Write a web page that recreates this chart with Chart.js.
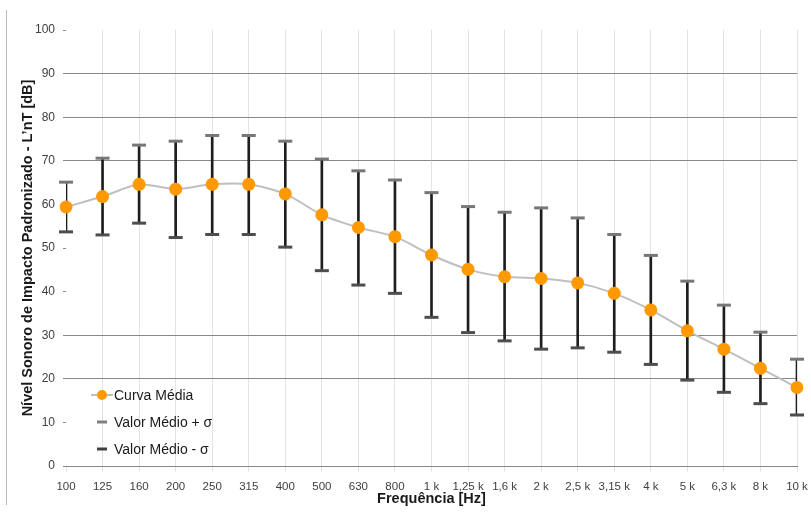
<!DOCTYPE html>
<html>
<head>
<meta charset="utf-8">
<script src="https://cdn.jsdelivr.net/npm/chart.js@4/dist/chart.umd.min.js"></script>
<style>
    html, body { margin: 0; padding: 0; background: #fff; }
    #wrap { position: relative; width: 811px; height: 512px; }
    #frame { position: absolute; left: 6px; top: 10px; height: 495px; border-left: 1px solid #b8b8b8; }
</style>
</head>
<body>
<div id="wrap">
    <div id="frame"></div>
    <canvas id="nivelChart" width="811" height="512"></canvas>
</div>
<script>
// Bandas de frequência (terço de oitava)
const frequencias = ['100', '125', '160', '200', '250', '315', '400', '500', '630', '800',
    '1 k', '1,25 k', '1,6 k', '2 k', '2,5 k', '3,15 k', '4 k', '5 k', '6,3 k', '8 k', '10 k'];

// Curva média L'nT [dB]
const curvaMedia = [59.4, 61.8, 64.6, 63.5, 64.6, 64.6, 62.4, 57.6, 54.7, 52.6,
    48.4, 45.1, 43.4, 43.0, 42.0, 39.6, 35.8, 31.0, 26.8, 22.4, 18.0];

// Valor médio + desvio padrão
const medioMais = [65.1, 70.6, 73.6, 74.5, 75.8, 75.8, 74.5, 70.4, 67.7, 65.6,
    62.7, 59.5, 58.2, 59.2, 56.9, 53.1, 48.3, 42.4, 36.9, 30.7, 24.5];

// Valor médio - desvio padrão
const medioMenos = [53.7, 53.0, 55.7, 52.4, 53.1, 53.1, 50.2, 44.8, 41.5, 39.6,
    34.1, 30.6, 28.7, 26.8, 27.1, 26.1, 23.3, 19.7, 16.9, 14.3, 11.7];

// Linhas de grade horizontais visíveis no original
const linhasGrade = [20, 30, 70, 80, 90];

Chart.defaults.font.family = "'Liberation Sans', Arial, sans-serif";
Chart.defaults.color = '#404040';

// Barras de erro verticais (min..max)
const faixas = medioMenos.map((v, i) => [v, medioMais[i]]);

// Legenda desenhada dentro da área do gráfico
const legendaInterna = {
    id: 'legendaInterna',
    afterDraw(chart) {
        const ctx = chart.ctx;
        const ds = chart.data.datasets;
        ctx.save();
        ctx.font = "14px 'Liberation Sans', Arial, sans-serif";
        ctx.fillStyle = '#1a1a1a';
        ctx.textBaseline = 'middle';
        ctx.textAlign = 'left';

        // Curva Média
        ctx.strokeStyle = '#bfbfbf';
        ctx.lineWidth = 2;
        ctx.beginPath(); ctx.moveTo(91, 395); ctx.lineTo(113, 395); ctx.stroke();
        ctx.fillStyle = '#ff9900';
        ctx.beginPath(); ctx.arc(102, 395, 5, 0, Math.PI * 2); ctx.fill();
        ctx.fillStyle = '#1a1a1a';
        ctx.fillText(ds[0].label, 114, 396);

        // + sigma
        ctx.strokeStyle = '#808080';
        ctx.lineWidth = 3;
        ctx.beginPath(); ctx.moveTo(97, 422); ctx.lineTo(107, 422); ctx.stroke();
        ctx.fillText(ds[1].label, 114, 423);

        // - sigma
        ctx.strokeStyle = '#404040';
        ctx.beginPath(); ctx.moveTo(97, 449); ctx.lineTo(107, 449); ctx.stroke();
        ctx.fillText(ds[2].label, 114, 450);
        ctx.restore();
    }
};

const ctx = document.getElementById('nivelChart').getContext('2d');
const nivelChart = new Chart(ctx, {
    type: 'line',
    data: {
        labels: frequencias,
        datasets: [{
            label: 'Curva Média',
            data: curvaMedia,
            borderColor: '#bfbfbf',
            borderWidth: 2,
            tension: 0.25,
            pointRadius: 6.5,
            pointBackgroundColor: '#ff9900',
            pointBorderWidth: 0,
            order: 0
        }, {
            label: 'Valor Médio + σ',
            data: medioMais,
            showLine: false,
            pointStyle: 'line',
            pointRadius: 7,
            pointBorderWidth: 3,
            pointBorderColor: '#777777',
            borderColor: '#777777',
            order: 1
        }, {
            label: 'Valor Médio - σ',
            data: medioMenos,
            showLine: false,
            pointStyle: 'line',
            pointRadius: 7,
            pointBorderWidth: 3,
            pointBorderColor: '#4d4d4d',
            borderColor: '#4d4d4d',
            order: 1
        }, {
            type: 'bar',
            label: 'desvio',
            data: faixas,
            backgroundColor: '#1e1e1e',
            barThickness: 2,
            order: 2
        }]
    },
    options: {
        responsive: false,
        animation: false,
        layout: { padding: { top: 30, right: 14, left: 0, bottom: 0 } },
        plugins: {
            legend: { display: false },
            tooltip: { enabled: false }
        },
        scales: {
            x: {
                offset: false,
                grid: {
                    offset: false,
                    color: (c) => c.index === 0 ? 'rgba(0,0,0,0)' : '#e3e3e3',
                    tickColor: '#e3e3e3',
                    tickLength: 6
                },
                border: { color: '#888888', width: 1 },
                ticks: {
                    autoSkip: false,
                    maxRotation: 0,
                    padding: 8,
                    color: '#404040',
                    font: { size: 11.5 }
                },
                title: {
                    display: true,
                    text: 'Frequência [Hz]',
                    color: '#1a1a1a',
                    font: { size: 14.5, weight: 'bold' },
                    padding: { top: 0, bottom: 4 }
                },
                afterFit: (scale) => {
                    scale.height = 46;
                    scale.paddingRight = 0;
                    scale.paddingLeft = 0;
                }
            },
            y: {
                min: 0,
                max: 100,
                grid: {
                    color: (c) => linhasGrade.includes(c.tick.value) ? '#888888' : 'rgba(0,0,0,0)',
                    tickColor: '#888888',
                    tickLength: 3
                },
                border: { display: false },
                ticks: {
                    stepSize: 10,
                    padding: 8,
                    color: '#404040',
                    font: { size: 12 }
                },
                title: {
                    display: true,
                    text: 'Nível Sonoro de Impacto Padronizado - L’nT [dB]',
                    color: '#1a1a1a',
                    font: { size: 14.5, weight: 'bold' },
                    padding: { top: 19, bottom: 0 }
                },
                afterFit: (scale) => { scale.width = 66; }
            }
        }
    },
    plugins: [legendaInterna]
});
</script>
</body>
</html>
